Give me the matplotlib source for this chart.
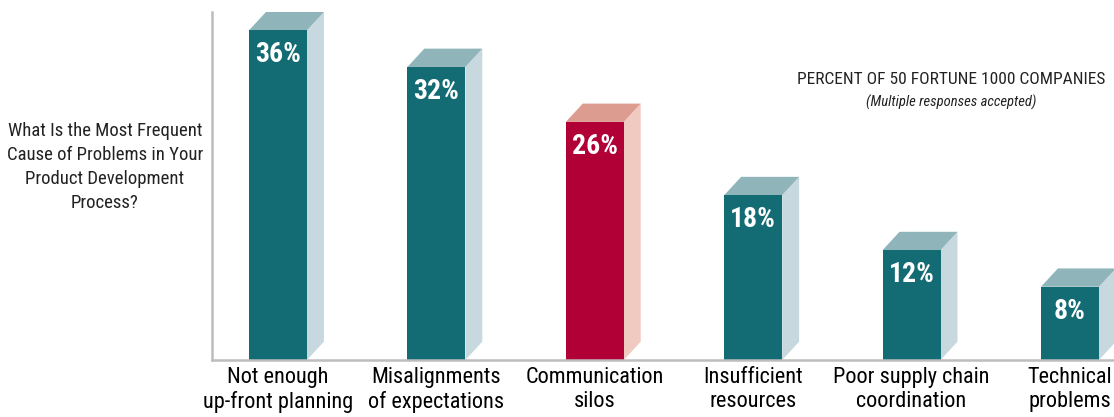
import matplotlib
matplotlib.use("Agg")
import matplotlib.pyplot as plt
from matplotlib.patches import Polygon, Rectangle
import logging
logging.getLogger("matplotlib.font_manager").setLevel(logging.ERROR)

# Survey data
categories = ["Not enough\nup-front planning", "Misalignments\nof expectations",
              "Communication\nsilos", "Insufficient\nresources",
              "Poor supply chain\ncoordination", "Technical\nproblems"]
values = [36, 32, 26, 18, 12, 8]
highlight = [False, False, True, False, False, False]

FONT = ["Roboto Condensed", "Barlow Condensed", "Archivo Narrow", "PT Sans Narrow",
        "Pragati Narrow", "Liberation Sans Narrow", "DejaVu Sans"]
plt.rcParams["font.family"] = FONT

teal = ("#136b74", "#8fb4b9", "#c7d9de")   # front, top, side
red = ("#b00036", "#dc9d90", "#f0c9c0")

fig = plt.figure(figsize=(11.14, 4.17), dpi=100)
ax = fig.add_axes([212 / 1114, 57 / 417, 902 / 1114, 348 / 417])
ax.set_xlim(-0.4167, 5.278)
ax.set_ylim(0, 38)

w = 0.366   # bar width
dx = 0.107  # depth offset x
dy = 2.0    # depth offset y

for i, (v, hl) in enumerate(zip(values, highlight)):
    front, top, side = red if hl else teal
    x0, x1 = i - w / 2, i + w / 2
    ax.add_patch(Polygon([(x1, 0), (x1 + dx, dy), (x1 + dx, v + dy), (x1, v)],
                         closed=True, facecolor=side, edgecolor="none"))
    ax.add_patch(Polygon([(x0, v), (x1, v), (x1 + dx, v + dy), (x0 + dx, v + dy)],
                         closed=True, facecolor=top, edgecolor="none"))
    ax.add_patch(Rectangle((x0, 0), w, v, facecolor=front, edgecolor="none"))
    ax.annotate(f"{v}%", xy=(i, v), xytext=(0, -8), textcoords="offset points",
                ha="center", va="top", color="white", fontsize=20, fontweight="bold")

ax.set_xticks(range(len(categories)))
ax.set_xticklabels(categories, fontsize=16, linespacing=1.2)
ax.tick_params(axis="x", length=0, pad=5)
ax.set_yticks([])
for s in ["top", "right"]:
    ax.spines[s].set_visible(False)
for s in ["left", "bottom"]:
    ax.spines[s].set_color("#bdbdbd")
    ax.spines[s].set_linewidth(1.8)

fig.text(105 / 1114, 1 - 167 / 417,
         "What Is the Most Frequent\nCause of Problems in Your\nProduct Development\nProcess?",
         ha="center", va="center", fontsize=13.5, linespacing=1.45, color="#222222")
fig.text(951 / 1114, 1 - 80 / 417, "PERCENT OF 50 FORTUNE 1000 COMPANIES",
         ha="center", va="center", fontsize=12.5, color="#222222")
fig.text(951 / 1114, 1 - 102 / 417, "(Multiple responses accepted)",
         ha="center", va="center", fontsize=10.5, style="italic", color="#222222")

fig.savefig("out.png", dpi=100)
